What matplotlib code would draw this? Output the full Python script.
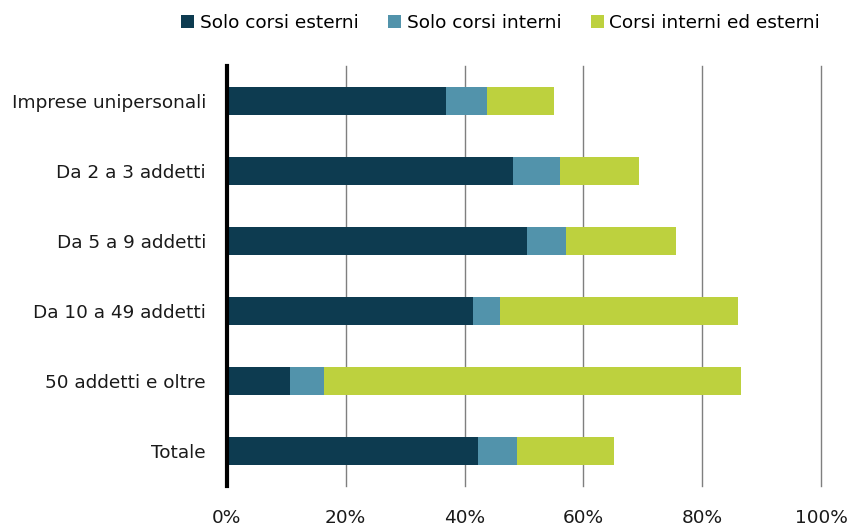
import matplotlib
matplotlib.use("Agg")
import matplotlib.pyplot as plt

plt.rcParams['font.family'] = ['DejaVu Sans']

categories = ["Imprese unipersonali", "Da 2 a 3 addetti", "Da 5 a 9 addetti",
              "Da 10 a 49 addetti", "50 addetti e oltre", "Totale"]
solo_esterni = [36.9, 48.2, 50.5, 41.4, 10.6, 42.3]
solo_interni = [6.9, 7.9, 6.6, 4.6, 5.7, 6.6]
interni_esterni = [11.2, 13.2, 18.5, 40.0, 70.3, 16.3]
series_names = ["Solo corsi esterni", "Solo corsi interni", "Corsi interni ed esterni"]
colors = ["#0d3b50", "#5293ab", "#bdd13e"]
xticks = [0, 20, 40, 60, 80, 100]
xtick_labels = ["0%", "20%", "40%", "60%", "80%", "100%"]

fig = plt.figure(figsize=(8.53, 5.31), dpi=100)
ax = fig.add_axes([0.266, 0.085, 0.6965, 0.791])

y = list(range(len(categories)))
left = [0.0] * len(categories)
for name, vals, col in zip(series_names, [solo_esterni, solo_interni, interni_esterni], colors):
    ax.barh(y, vals, left=left, height=0.4, color=col, label=name, zorder=3)
    left = [l + v for l, v in zip(left, vals)]

ax.set_xlim(0, 100)
ax.set_ylim(len(categories) - 0.5, -0.5)
ax.set_yticks(y)
ax.set_yticklabels(categories, fontsize=13.3, color="#1a1a1a")
ax.set_xticks(xticks)
ax.set_xticklabels(xtick_labels, fontsize=13.3, color="#1a1a1a")
ax.tick_params(axis='y', length=0, pad=15)
ax.tick_params(axis='x', length=0, pad=17)

for xv in xticks[1:]:
    ax.axvline(xv, color="#7f7f7f", linewidth=1.0, zorder=0, clip_on=False)
for s in ["top", "right", "bottom"]:
    ax.spines[s].set_visible(False)
ax.spines["left"].set_linewidth(3)
ax.spines["left"].set_color("black")
ax.spines["left"].set_zorder(4)

fig.legend(loc="upper center", bbox_to_anchor=(0.587, 1.005), ncol=3, frameon=False,
           fontsize=13.3, handlelength=0.7, handleheight=0.7, handletextpad=0.3,
           columnspacing=1.6)

fig.savefig("out.png", dpi=100)
